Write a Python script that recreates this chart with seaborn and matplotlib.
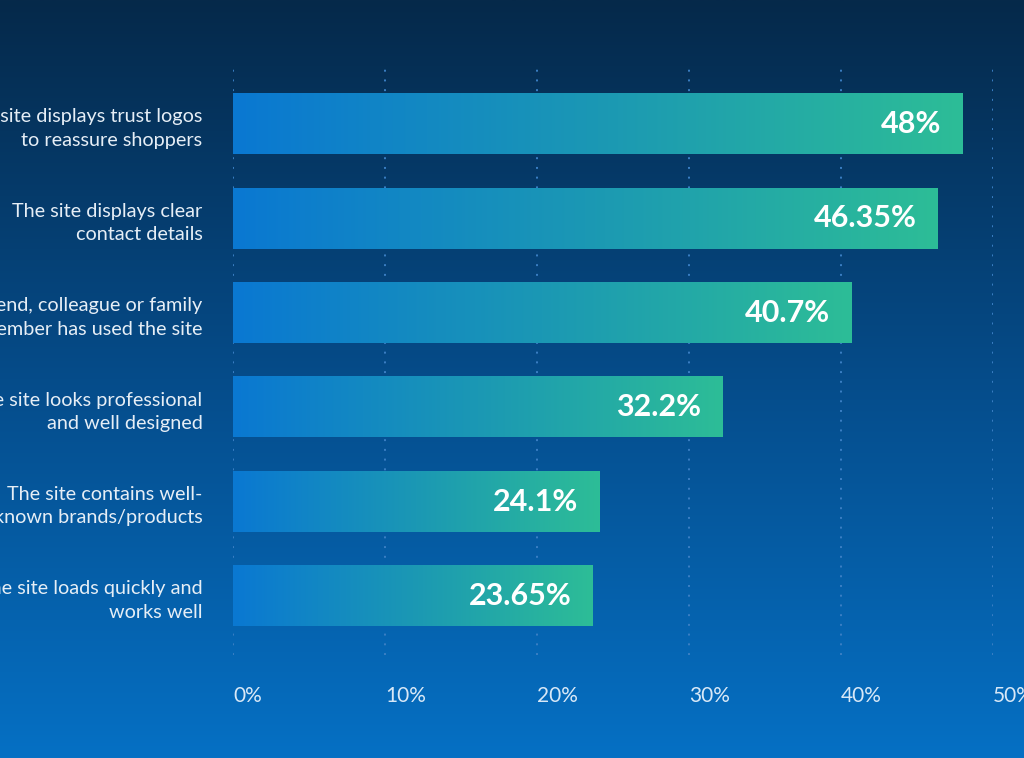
import matplotlib.pyplot as plt
import matplotlib.colors as mcolors
import numpy as np
import pandas as pd
import seaborn as sns

# Data
reasons = [
    "The site displays trust logos\nto reassure shoppers",
    "The site displays clear\ncontact details",
    "A friend, colleague or family\nmember has used the site",
    "The site looks professional\nand well designed",
    "The site contains well-\nknown brands/products",
    "The site loads quickly and\nworks well",
]
shares = [48, 46.35, 40.7, 32.2, 24.1, 23.65]
share_labels = ["48%", "46.35%", "40.7%", "32.2%", "24.1%", "23.65%"]
ticks = [0, 10, 20, 30, 40, 50]

df = pd.DataFrame({"reason": reasons, "share": shares})

sns.set_theme(style="white")
plt.rcParams["font.family"] = ["Lato", "DejaVu Sans"]

fig = plt.figure(figsize=(10.24, 7.58), dpi=100)

# Background gradient (dark navy top -> blue bottom)
bg = fig.add_axes([0, 0, 1, 1], zorder=0)
bg_cmap = mcolors.LinearSegmentedColormap.from_list("bg", ["#06294a", "#054c8a", "#0670c4"])
bg.imshow(np.linspace(0, 1, 256).reshape(-1, 1), cmap=bg_cmap, aspect="auto", extent=[0, 1, 0, 1])
bg.set_axis_off()

ax = fig.add_axes([233 / 1024, 1 - 655 / 758, (993 - 233) / 1024, (655 - 68) / 758], zorder=1)
ax.patch.set_alpha(0)

sns.barplot(data=df, x="share", y="reason", orient="h", width=0.64, color="#0a78d0", ax=ax)

bar_cmap = mcolors.LinearSegmentedColormap.from_list("bar", ["#0a78d2", "#1b98b4", "#2dbd97"])
grad = np.linspace(0, 1, 256).reshape(1, -1)
for patch, lab in zip(ax.patches, share_labels):
    x0, y0 = patch.get_x(), patch.get_y()
    w, h = patch.get_width(), patch.get_height()
    ax.imshow(grad, cmap=bar_cmap, aspect="auto", extent=[x0, x0 + w, y0 + h, y0], zorder=3)
    patch.set_visible(False)
    ax.text(x0 + w - 1.4, y0 + h / 2, lab, ha="right", va="center", color="white",
            fontsize=22, fontweight="bold", zorder=4)

ax.set_xlim(0, 50)
ax.set_ylim(5.625, -0.593)

for t in ticks:
    ax.axvline(t, color="#3b7fc4", linewidth=1.4, linestyle=(0, (1, 4)), zorder=1)

ax.set_xticks(ticks)
ax.set_xticklabels([f"{t}%" for t in ticks], ha="left")
ax.set_yticks(range(len(reasons)))
ax.set_yticklabels(reasons, ha="right", linespacing=1.45)
ax.tick_params(axis="x", colors="#d8e8f7", labelsize=15, pad=22, length=0)
ax.tick_params(axis="y", colors="#e6eef6", labelsize=14.3, pad=22, length=0)

ax.set_xlabel("")
ax.set_ylabel("")
for s in ax.spines.values():
    s.set_visible(False)

fig.savefig("out.png", dpi=100)
